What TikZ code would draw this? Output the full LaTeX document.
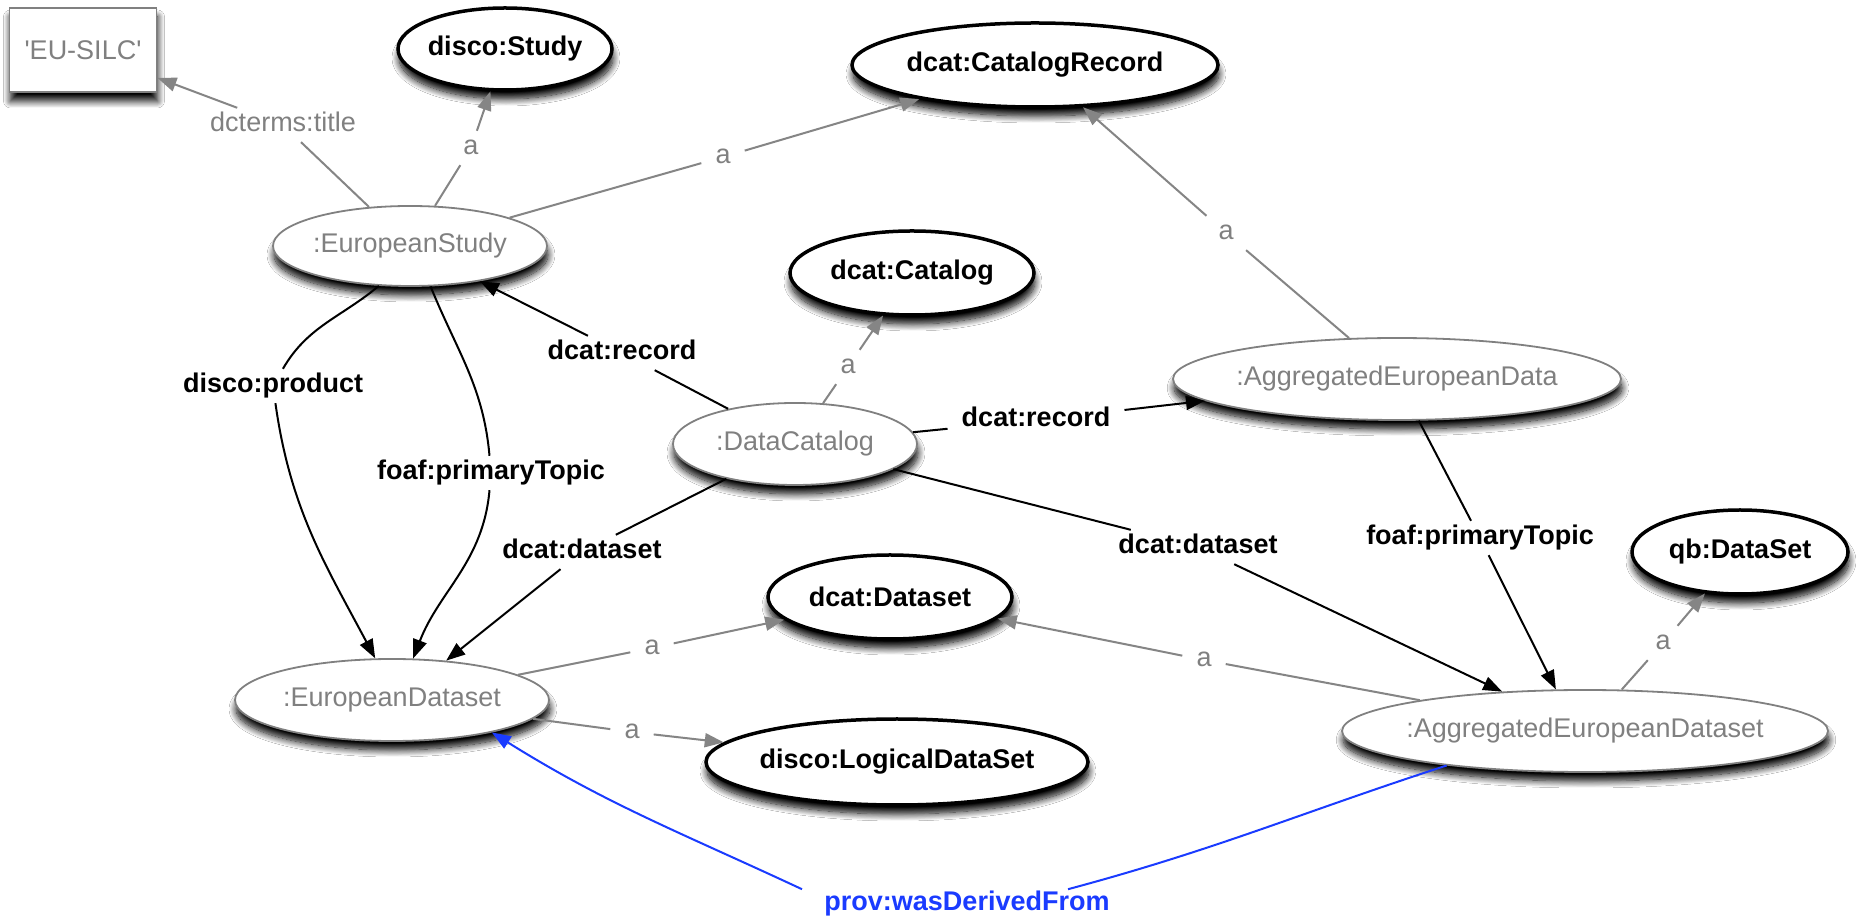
\documentclass[tikz,border=0pt]{standalone}
\usepackage{fontspec}
\setmainfont{Liberation Sans}
\usetikzlibrary{shapes.geometric,arrows.meta,shadows.blur,calc}
\definecolor{edgegray}{HTML}{858585}
\definecolor{txtgray}{HTML}{808080}
\definecolor{provblue}{HTML}{1A3BFF}
\newcommand{\cbx}[1]{\makebox[0pt]{#1}}
\begin{document}
\begin{tikzpicture}[x=1pt,y=1pt,
  every node/.style={font=\fontsize{27}{32}\selectfont},
  shad/.style={blur shadow={shadow xshift=1pt,shadow yshift=-9pt,shadow blur radius=7pt,shadow blur steps=12,shadow opacity=100}},
  cls/.style={ellipse, draw=black, line width=3.5pt, fill=white, font=\fontsize{27}{32}\selectfont\bfseries, inner sep=0pt, shad},
  inst/.style={ellipse, draw=txtgray, line width=1.8pt, fill=white, text=txtgray, inner sep=0pt, shad},
  lit/.style={rectangle, draw=txtgray, line width=1.8pt, fill=white, text=txtgray, inner sep=0pt, shad},
  glab/.style={text=txtgray, text height=20pt, text depth=6pt, inner xsep=14pt, inner ysep=4pt},
  blab/.style={font=\fontsize{27}{32}\selectfont\bfseries, text height=20pt, text depth=6pt, inner xsep=14pt, inner ysep=4pt},
  plab/.style={font=\fontsize{27}{32}\selectfont\bfseries, text=provblue, inner sep=2pt},
  gline/.style={draw=edgegray, line width=2pt},
  garr/.style={gline, -{Triangle[length=19pt,width=14pt]}},
  bline/.style={draw=black, line width=2pt},
  barr/.style={bline, -{Triangle[length=19pt,width=14pt]}},
  pline/.style={draw=provblue, line width=2pt},
  parr/.style={pline, -{Triangle[length=19pt,width=14pt]}}
]
\useasboundingbox (0,0) rectangle (1860,918);
\fill[white] (0,0) rectangle (1860,918);

% nodes
\node[lit, minimum width=147pt, minimum height=84pt] (eusilc) at (83,868) {\cbx{\textquotesingle EU-SILC\textquotesingle}};
\node[cls, minimum width=214pt, minimum height=82pt] (study) at (505,869) {\cbx{disco:Study}};
\node[cls, minimum width=366pt, minimum height=84pt] (catrec) at (1035,853) {\cbx{dcat:CatalogRecord}};
\node[inst, minimum width=274pt, minimum height=80pt] (estudy) at (410,672) {\cbx{:EuropeanStudy}};
\node[cls, minimum width=244pt, minimum height=84pt] (catalog) at (912,645) {\cbx{dcat:Catalog}};
\node[inst, minimum width=244pt, minimum height=82pt] (datacat) at (795,474) {\cbx{:DataCatalog}};
\node[inst, minimum width=448pt, minimum height=82pt] (aggdata) at (1397,539) {\cbx{:AggregatedEuropeanData}};
\node[cls, minimum width=244pt, minimum height=84pt] (dataset) at (890,321) {\cbx{dcat:Dataset}};
\node[cls, minimum width=216pt, minimum height=84pt] (qbds) at (1740,366) {\cbx{qb:DataSet}};
\node[inst, minimum width=314pt, minimum height=82pt] (edataset) at (392,218) {\cbx{:EuropeanDataset}};
\node[inst, minimum width=486pt, minimum height=82pt] (aggds) at (1585,187) {\cbx{:AggregatedEuropeanDataset}};
\node[cls, minimum width=382pt, minimum height=86pt] (logical) at (897,156) {\cbx{disco:LogicalDataSet}};

% edge labels
\node[glab] (ltitle) at (283,793) {dcterms:title};
\node[glab] (la1) at (471,770) {a};
\node[glab] (la2) at (723,761) {a};
\node[glab] (la3) at (1226,685) {a};
\node[glab] (la4) at (848,551) {a};
\node[blab] (lrec1) at (622,565) {dcat:record};
\node[blab] (lrec2) at (1036,498) {dcat:record};
\node[blab] (lprod) at (273,532) {disco:product};
\node[blab] (lfoaf1) at (491,445) {foaf:primaryTopic};
\node[blab] (lds1) at (582,366) {dcat:dataset};
\node[blab] (lds2) at (1198,371) {dcat:dataset};
\node[blab] (lfoaf2) at (1480,380) {foaf:primaryTopic};
\node[glab] (la7) at (652,270) {a};
\node[glab] (la5) at (1204,258) {a};
\node[glab] (la8) at (632,186) {a};
\node[glab] (la6) at (1663,275) {a};
\node[plab] (lprov) at (967,14) {prov:wasDerivedFrom};

% edges
\draw[gline] (estudy) -- (ltitle);
\draw[garr] (ltitle) -- (eusilc);
\draw[gline] (estudy) -- (la1);
\draw[garr] (la1) -- (study);
\draw[gline] (estudy) -- (la2);
\draw[garr] (la2) -- (catrec);
\draw[gline] (aggdata) -- (la3);
\draw[garr] (la3) -- (catrec);
\draw[gline] (datacat) -- (la4);
\draw[garr] (la4) -- (catalog);
\draw[bline] (datacat) -- (lrec1);
\draw[barr] (lrec1) -- (estudy);
\draw[bline] (datacat) -- (lrec2);
\draw[barr] (lrec2) -- (aggdata);
\draw[bline] (datacat) -- (lds1);
\draw[barr] (lds1) -- (edataset.36);
\draw[bline] (datacat) -- (lds2);
\draw[barr] (lds2) -- (aggds);
\draw[bline] (estudy.232) to[out=220,in=60] (lprod);
\draw[barr] (lprod) to[out=-82,in=118] (edataset.112);
\draw[bline] (estudy.-63) to[out=-68,in=95] (lfoaf1);
\draw[barr] (lfoaf1) to[out=-95,in=69] (edataset.63);
\draw[bline] (aggdata) -- (lfoaf2);
\draw[barr] (lfoaf2) -- (aggds.125);
\draw[gline] (aggds) -- (la5);
\draw[garr] (la5) -- (dataset);
\draw[gline] (aggds) -- (la6);
\draw[garr] (la6) -- (qbds);
\draw[gline] (edataset) -- (la7);
\draw[garr] (la7) -- (dataset);
\draw[gline] (edataset) -- (la8);
\draw[garr] (la8) -- (logical);
\draw[pline] (aggds.194) to[out=198,in=15] ([xshift=101pt]lprov.north);
\draw[parr] ([xshift=-165pt]lprov.north) to[out=155,in=-32] (edataset.-18);
\end{tikzpicture}
\end{document}
